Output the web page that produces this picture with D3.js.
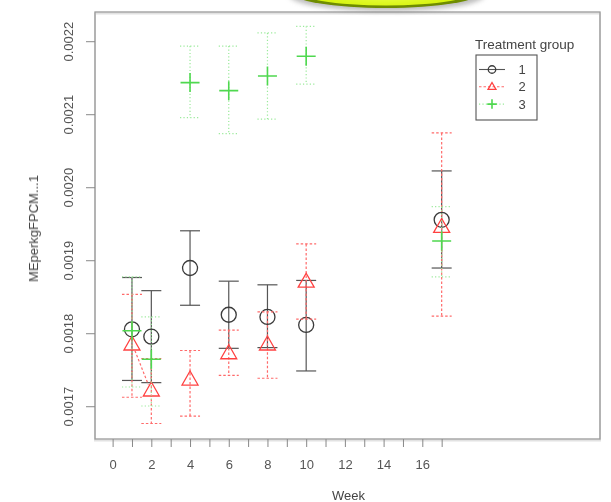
<!DOCTYPE html>
<html><head><meta charset="utf-8">
<script src="https://cdn.jsdelivr.net/npm/d3@7"></script>
<style>body{margin:0;background:#fff}svg{display:block}text{font-family:"Liberation Sans",Arial,sans-serif}</style>
</head><body>
<script>
// Data
const weeks = [1, 2, 4, 6, 8, 10, 17];
const groups = ["1", "2", "3"];
const g1Mean  = [0.001806, 0.001796, 0.001890, 0.001826, 0.001823, 0.001812, 0.001956];
const g1Upper = [0.001877, 0.001859, 0.001941, 0.001872, 0.001867, 0.001873, 0.002023];
const g1Lower = [0.001736, 0.001733, 0.001839, 0.001780, 0.001781, 0.001749, 0.001890];
const g2Mean  = [0.001785, 0.001722, 0.001737, 0.001773, 0.001785, 0.001871, 0.001946];
const g2Upper = [0.001854, 0.001766, 0.001777, 0.001805, 0.001830, 0.001923, 0.002075];
const g2Lower = [0.001713, 0.001677, 0.001687, 0.001743, 0.001739, 0.001820, 0.001824];
const g3Mean  = [0.001804, 0.001765, 0.002144, 0.002133, 0.002153, 0.002180, 0.001927];
const g3Upper = [0.001878, 0.001823, 0.002194, 0.002194, 0.002212, 0.002221, 0.001974];
const g3Lower = [0.001727, 0.001701, 0.002096, 0.002074, 0.002094, 0.002142, 0.001878];
const xTicks = d3.range(0, 18);
const xTickLabels = [0, 2, 4, 6, 8, 10, 12, 14, 16];
const yTicks = [0.0017, 0.0018, 0.0019, 0.0020, 0.0021, 0.0022];

const W = 611, H = 502;
const L = 95, R = 600, T = 12, B = 439;
const svg = d3.select("body").append("svg").attr("width", W).attr("height", H);
const defs = svg.append("defs");
defs.append("filter").attr("id","soft").append("feGaussianBlur").attr("stdDeviation",0.45);
defs.append("filter").attr("id","shadow").attr("x","-20%").attr("y","-50%").attr("width","140%").attr("height","200%")
  .append("feGaussianBlur").attr("stdDeviation",2.5);
const grad = defs.append("radialGradient").attr("id","blob").attr("cx","50%").attr("cy","70%").attr("r","60%");
grad.append("stop").attr("offset","0%").attr("stop-color","#e8ff40");
grad.append("stop").attr("offset","80%").attr("stop-color","#d2f000");
grad.append("stop").attr("offset","100%").attr("stop-color","#b8d800");

const x = d3.scaleLinear().domain([-0.91, 25.18]).range([L, R]);
const y = d3.scaleLinear().domain([0.0016558, 0.0022407]).range([B, T]);

const root = svg.append("g").attr("filter","url(#soft)");

// plot frame
root.append("rect").attr("x", L).attr("y", T+1.5).attr("width", R-L).attr("height", B-T)
  .attr("fill","none").attr("stroke","#e2e2e2").attr("stroke-width",2);
root.append("rect").attr("x", L).attr("y", T).attr("width", R-L).attr("height", B-T)
  .attr("fill","none").attr("stroke","#9a9a9a").attr("stroke-width",1.3);

// green blob at the top
svg.append("ellipse").attr("cx",387).attr("cy",-5).attr("rx",98).attr("ry",16)
  .attr("fill","#777").attr("opacity",0.5).attr("filter","url(#shadow)");
svg.append("ellipse").attr("cx",386).attr("cy",-8).attr("rx",95).attr("ry",16)
  .attr("fill","#6f8c00");
svg.append("ellipse").attr("cx",386).attr("cy",-10).attr("rx",91).attr("ry",15.5)
  .attr("fill","url(#blob)");

// axes
const yAxis = root.append("g").attr("transform",`translate(${L},0)`)
  .call(d3.axisLeft(y).tickValues(yTicks).tickSize(9).tickFormat(d3.format(".4f")));
yAxis.select(".domain").remove();
yAxis.selectAll(".tick").attr("transform", null);
yAxis.selectAll(".tick line").attr("stroke","#888").attr("y1", d => y(d)).attr("y2", d => y(d));
yAxis.selectAll(".tick text").attr("x",null).attr("dy",null)
  .attr("text-anchor","middle").attr("fill","#555").style("font-size","13px")
  .attr("transform", d => `translate(-27,${y(d)}) rotate(-90)`).attr("y", 4.7);

const xAxis = root.append("g").attr("transform",`translate(0,${B})`)
  .call(d3.axisBottom(x).tickValues(xTicks).tickSize(8)
    .tickFormat(d => xTickLabels.includes(d) ? d : ""));
xAxis.select(".domain").remove();
xAxis.selectAll("line").attr("stroke","#888");
xAxis.selectAll("text").attr("fill","#555").style("font-size","13px").attr("y",21);

root.append("text").attr("x",(L+R)/2+1).attr("y",500).attr("text-anchor","middle")
  .style("font-size","13px").attr("fill","#444").text("Week");
root.append("text").attr("transform",`translate(38,${(T+B)/2+3}) rotate(-90)`)
  .attr("text-anchor","middle").style("font-size","13px").attr("fill","#444").text("MEperkgFPCM...1");

// series
const series = [
  {name: groups[0], mean: g1Mean, up: g1Upper, lo: g1Lower, color: "#3a3a3a", barColor:"#555", dash: null, sym: "circle"},
  {name: groups[1], mean: g2Mean, up: g2Upper, lo: g2Lower, color: "#ff4040", barColor:"#ff6a6a", dash: "2.5,2", sym: "triangle"},
  {name: groups[2], mean: g3Mean, up: g3Upper, lo: g3Lower, color: "#4fd84f", barColor:"#9aea9a", dash: "1.2,2.2", sym: "cross"}
];
const cap = 10;
function drawSym(g, sym, cx, cy, color, s) {
  if (sym === "circle") {
    g.append("circle").attr("cx",cx).attr("cy",cy).attr("r",7.5*s).attr("fill","none")
      .attr("stroke",color).attr("stroke-width",1.3);
  } else if (sym === "triangle") {
    const h = 14*s, w = 16*s;
    g.append("path").attr("d",`M${cx},${cy-h*0.62} L${cx+w/2},${cy+h*0.38} L${cx-w/2},${cy+h*0.38} Z`)
      .attr("fill","none").attr("stroke",color).attr("stroke-width",1.3);
  } else {
    const a = 9.5*s;
    g.append("path").attr("d",`M${cx-a},${cy} H${cx+a} M${cx},${cy-a} V${cy+a}`)
      .attr("stroke",color).attr("stroke-width",1.6);
  }
}
series.forEach((s, si) => {
  const g = root.append("g");
  weeks.forEach((wk, i) => {
    const cx = x(wk);
    g.append("line").attr("x1",cx).attr("x2",cx).attr("y1",y(s.up[i])).attr("y2",y(s.lo[i]))
      .attr("stroke",s.barColor).attr("stroke-width",1.2).attr("stroke-dasharray",s.dash);
    [s.up[i], s.lo[i]].forEach(v => {
      g.append("line").attr("x1",cx-cap).attr("x2",cx+cap).attr("y1",y(v)).attr("y2",y(v))
        .attr("stroke",s.barColor).attr("stroke-width",1.2).attr("stroke-dasharray",s.dash);
    });
    drawSym(g, s.sym, cx, y(s.mean[i]), s.color, 1);
  });
  if (si === 1) {
    g.append("line").attr("x1",x(weeks[0])+3).attr("y1",y(s.mean[0])+6)
      .attr("x2",x(weeks[1])-3).attr("y2",y(s.mean[1])-6)
      .attr("stroke",s.barColor).attr("stroke-width",1.2).attr("stroke-dasharray",s.dash);
  }
});

// legend
const lg = root.append("g");
lg.append("text").attr("x",475).attr("y",49).style("font-size","13.5px").attr("fill","#444").text("Treatment group");
lg.append("rect").attr("x",476).attr("y",55).attr("width",61).attr("height",65)
  .attr("fill","none").attr("stroke","#555").attr("stroke-width",1.1);
series.forEach((s, i) => {
  const ly = 69.5 + i*17.3;
  lg.append("line").attr("x1",479).attr("x2",505).attr("y1",ly).attr("y2",ly)
    .attr("stroke",s.barColor).attr("stroke-width",1.1).attr("stroke-dasharray",s.dash);
  drawSym(lg, s.sym, 492, ly, s.color, 0.5);
  lg.append("text").attr("x",522).attr("y",ly+4.5).attr("text-anchor","middle")
    .style("font-size","13px").attr("fill","#444").text(s.name);
});
</script>
</body></html>
